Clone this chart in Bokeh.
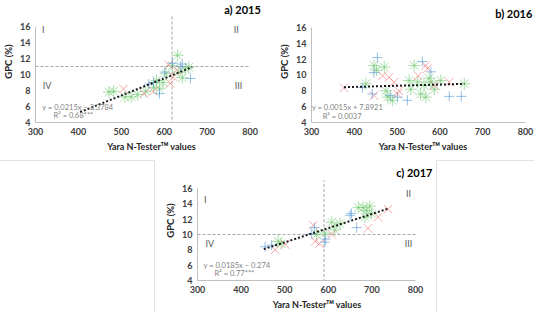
from bokeh.plotting import figure
from bokeh.models import Range1d, Label, Spacer, FixedTicker
from bokeh.layouts import row, column
from bokeh.embed import file_html
from bokeh.resources import INLINE

# ---------------- data ----------------
x_ticks = [300, 400, 500, 600, 700, 800]
y_ticks = [4, 6, 8, 10, 12, 14, 16]

# panel a) 2015
a_blue_x = [564, 575, 589, 601, 619, 638, 642, 661]
a_blue_y = [8.8, 9.0, 7.6, 10.3, 11.4, 11.0, 11.3, 9.5]
a_red_x = [505, 553, 575, 610, 614, 621, 629]
a_red_y = [8.2, 7.6, 7.9, 11.2, 8.9, 9.7, 10.6]
a_green_x = [471, 482, 508, 523, 538, 557, 575, 582, 589, 597, 604, 619, 631, 634, 642, 649, 657]
a_green_y = [7.8, 7.9, 7.2, 7.2, 7.5, 7.9, 8.4, 9.25, 8.2, 9.0, 10.1, 11.1, 12.4, 10.3, 9.6, 10.7, 10.9]
a_slope, a_icpt = 0.0215, -3.3784
a_trend_x = [404, 665]
a_vline, a_hline = 618, 11
a_eq = ["y = 0.0215x \u2212 3.3784", "R\u00b2 = 0.68***"]

# panel b) 2016
b_blue_x = [419, 442, 446, 454, 484, 501, 524, 559, 579, 622, 650]
b_blue_y = [8.4, 7.6, 10.3, 12.2, 7.4, 7.2, 6.8, 11.7, 10.4, 7.3, 7.3]
b_red_x = [376, 446, 466, 481, 493, 501, 504, 549, 567, 571, 587, 622]
b_red_y = [8.4, 7.4, 9.9, 9.7, 9.1, 7.6, 8.0, 9.9, 11.2, 10.8, 8.7, 9.1]
b_green_x = [427, 446, 452, 470, 474, 478, 489, 528, 532, 540, 548, 555, 563, 567, 575, 579, 587, 602, 657]
b_green_y = [8.9, 11.2, 10.6, 11.0, 8.0, 7.2, 6.8, 9.3, 8.2, 11.2, 9.1, 7.6, 8.7, 7.2, 9.6, 9.1, 8.2, 9.3, 8.9]
b_slope, b_icpt = 0.0015, 7.8921
b_trend_x = [376, 657]
b_eq = ["y = 0.0015x + 7.8921", "R\u00b2 = 0.0037"]

# panel c) 2017
c_blue_x = [455, 470, 562, 568, 592, 594, 650, 653, 665]
c_blue_y = [8.4, 8.6, 10.1, 10.9, 9.0, 9.4, 12.5, 12.75, 10.9]
c_red_x = [478, 501, 566, 570, 580, 608, 691, 714, 737]
c_red_y = [8.0, 8.7, 11.2, 9.1, 8.8, 10.0, 10.8, 12.25, 13.3]
c_green_x = [485, 492, 573, 592, 608, 615, 627, 669, 680, 684, 688, 695, 699]
c_green_y = [9.1, 8.8, 10.0, 10.2, 11.6, 10.6, 11.4, 13.5, 13.5, 12.25, 13.1, 13.7, 12.7]
c_slope, c_icpt = 0.0185, -0.274
c_trend_x = [452, 737]
c_vline, c_hline = 590, 10
c_eq = ["y = 0.0185x \u2212 0.274", "R\u00b2 = 0.77***"]

FONT = "Lato"
BLUE = "#5b9bd5"
RED = "#f07070"
GREEN = "#70c870"
GRAY_TXT = "#7f7f7f"
BORDER = "1px solid #e3e3e3"


def make_panel(width, height, bl, bb, span_px, ppu_y, title, title_pos,
               blue, red, green, slope, icpt, trend_x, eq, eq_pos,
               vline=None, hline=None, vtop=None, quads=None):
    # frame fills the canvas to the right/top; axes are bounded to the data box
    x_end = 300 + (width - bl) / span_px * 500
    y_end = 4 + (height - bb) / ppu_y
    p = figure(width=width, height=height, output_backend="svg", toolbar_location=None,
               x_range=Range1d(300, x_end), y_range=Range1d(4, y_end),
               min_border_left=bl, min_border_right=0, min_border_top=0, min_border_bottom=bb,
               outline_line_color=None)
    p.xgrid.visible = False
    p.ygrid.visible = False
    for ax in (p.xaxis[0], p.yaxis[0]):
        ax.axis_line_color = "#c0c0c0"
        ax.major_tick_line_color = None
        ax.minor_tick_line_color = None
        ax.major_tick_out = 0
        ax.major_tick_in = 0
        ax.minor_tick_out = 0
        ax.minor_tick_in = 0
        ax.major_label_text_font = FONT
        ax.major_label_text_font_size = "9px"
        ax.major_label_text_font_style = "bold"
        ax.major_label_text_color = "#404040"
        ax.axis_label_text_font = FONT
        ax.axis_label_text_font_style = "bold"
        ax.axis_label_text_color = "#262626"
    p.yaxis.bounds = (4, 16)
    p.xaxis.bounds = (300, 800)
    p.xaxis.ticker = FixedTicker(ticks=x_ticks)
    p.yaxis.ticker = FixedTicker(ticks=y_ticks)
    p.yaxis.axis_label = "GPC (%)"
    p.yaxis.axis_label_text_font_size = "9.5px"
    p.yaxis.axis_label_standoff = 3
    p.yaxis.major_label_standoff = 5
    p.xaxis.axis_label = "Yara N-Tester\u1d40\u1d39 values"
    p.xaxis.axis_label_text_font_size = "9px"
    p.xaxis.axis_label_standoff = 3
    p.xaxis.major_label_standoff = 5

    if vline is not None:
        p.segment(x0=[vline], y0=[2.5], x1=[vline], y1=[vtop], line_color="#a6a6a6",
                  line_width=1, line_dash="3 2")
        p.segment(x0=[300], y0=[hline], x1=[800], y1=[hline], line_color="#a6a6a6",
                  line_width=1, line_dash="3 2")

    bx, by = blue
    rx, ry = red
    gx, gy = green
    p.scatter(gx, gy, marker="asterisk", size=12, line_color=GREEN, line_width=1, line_alpha=0.6)
    p.scatter(rx, ry, marker="x", size=12, line_color=RED, line_width=1, line_alpha=0.6)
    p.scatter(bx, by, marker="cross", size=10, line_color=BLUE, line_width=1, line_alpha=0.65)

    ty = [slope * x + icpt for x in trend_x]
    p.line(trend_x, ty, line_color="#1a1a1a", line_width=2, line_dash="2 2")

    (ex, ey), (rx2, ry2) = eq_pos
    p.add_layout(Label(x=ex, y=ey, text=eq[0], text_font=FONT, text_font_size="7.5px",
                       text_color=GRAY_TXT, text_baseline="middle"))
    p.add_layout(Label(x=rx2, y=ry2, text=eq[1], text_font=FONT, text_font_size="7.5px",
                       text_color=GRAY_TXT, text_baseline="middle"))

    if quads:
        for (qx, qy, qt) in quads:
            p.add_layout(Label(x=qx, y=qy, text=qt, text_font=FONT, text_font_size="9px",
                               text_color="#595959", text_align="center", text_baseline="middle"))

    tx, tyy = title_pos
    p.add_layout(Label(x=tx, y=tyy, text=title, text_font=FONT,
                       text_font_size="11px", text_font_style="bold", text_color="#000000",
                       text_align="right", text_baseline="middle"))
    return p


pa = make_panel(267, 160, 27, 38, 222, 8.0, "a) 2015", (825, 18.1),
                (a_blue_x, a_blue_y), (a_red_x, a_red_y), (a_green_x, a_green_y),
                a_slope, a_icpt, a_trend_x, a_eq, [(316, 5.9), (342, 4.9)],
                vline=a_vline, hline=a_hline, vtop=17.4,
                quads=[(318, 15.6, "I"), (768, 15.6, "II"), (327, 8.6, "IV"), (773, 8.6, "III")])

pb = make_panel(267, 160, 44, 38, 214, 7.92, "b) 2016", (816, 17.75),
                (b_blue_x, b_blue_y), (b_red_x, b_red_y), (b_green_x, b_green_y),
                b_slope, b_icpt, b_trend_x, b_eq, [(301, 5.9), (326, 4.8)])

pc = make_panel(281, 152, 42, 32, 218, 7.67, "c) 2017", (839, 18.1),
                (c_blue_x, c_blue_y), (c_red_x, c_red_y), (c_green_x, c_green_y),
                c_slope, c_icpt, c_trend_x, c_eq, [(314, 5.9), (339, 4.9)],
                vline=c_vline, hline=c_hline, vtop=17.05,
                quads=[(318, 14.5, "I"), (784, 15.4, "II"), (328, 8.8, "IV"), (784, 8.8, "III")])

left_pad = Spacer(width=155, height=152,
                  styles={"border-top": BORDER, "border-right": BORDER, "box-sizing": "border-box"})
right_pad = Spacer(width=98, height=152,
                   styles={"border-top": BORDER, "border-left": BORDER, "box-sizing": "border-box"})

layout = column(row(pa, pb), row(left_pad, pc, right_pad))

open("out.html", "w").write(file_html(layout, INLINE))
